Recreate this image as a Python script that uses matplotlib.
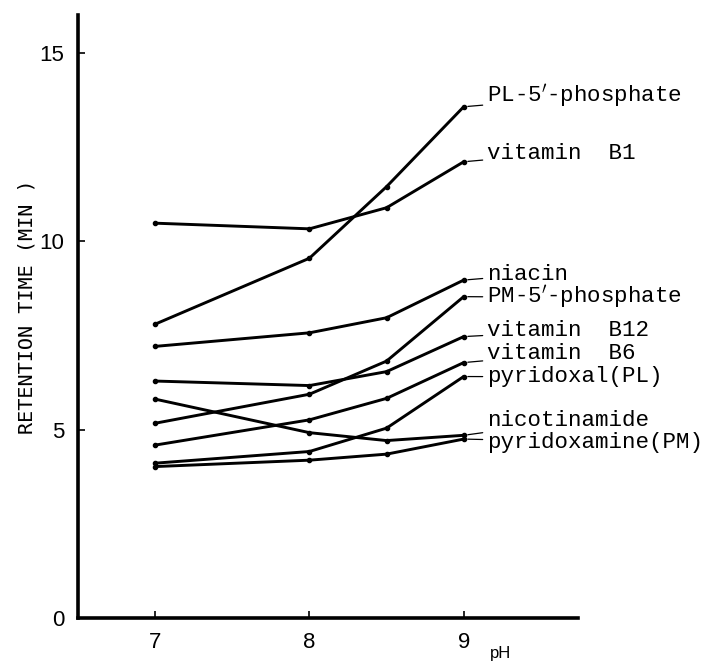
# Retention time vs pH for the B vitamins
import matplotlib
matplotlib.use('Agg')
import matplotlib.pyplot as plt

# Data
ph = [7, 8, 8.5, 9]
pl_5_phosphate = [7.80, 9.55, 11.45, 13.57]
vitamin_b1 = [10.48, 10.33, 10.89, 12.11]
niacin = [7.21, 7.57, 7.97, 8.97]
pm_5_phosphate = [5.17, 5.94, 6.82, 8.53]
vitamin_b12 = [6.29, 6.17, 6.54, 7.47]
vitamin_b6 = [4.59, 5.26, 5.83, 6.78]
pyridoxal = [4.11, 4.42, 5.04, 6.41]
nicotinamide = [5.81, 4.92, 4.71, 4.85]
pyridoxamine = [4.02, 4.19, 4.35, 4.75]

series = [pl_5_phosphate, vitamin_b1, niacin, pm_5_phosphate, vitamin_b12,
          vitamin_b6, pyridoxal, nicotinamide, pyridoxamine]
names = [r"PL-5$'$-phosphate", 'vitamin  B1', 'niacin', r"PM-5$'$-phosphate",
         'vitamin  B12', 'vitamin  B6', 'pyridoxal(PL)', 'nicotinamide',
         'pyridoxamine(PM)']
# where the right-hand labels sit (y, data units)
label_y = [13.84, 12.34, 9.11, 8.51, 7.62, 7.01, 6.40, 5.23, 4.67]

x_ticks = [7, 8, 9]
y_ticks = [0, 5, 10, 15]

mono = ['Liberation Mono', 'DejaVu Sans Mono']
sans = ['Liberation Sans', 'DejaVu Sans']

fig = plt.figure(figsize=(7.03, 6.61), dpi=100)
ax = fig.add_axes([0.111, 0.065, 0.711, 0.912])

for vals, name, ly in zip(series, names, label_y):
    ax.plot(ph, vals, color='black', lw=2.1, marker='o', markersize=3,
            solid_capstyle='round')
    ax.annotate(name, xy=(ph[-1], vals[-1]), xytext=(9.15, ly),
                ha='left', va='center', fontsize=16.2, family=mono,
                annotation_clip=False,
                arrowprops=dict(arrowstyle='-', lw=0.9, color='black',
                                shrinkA=1, shrinkB=3))

ax.set_xlim(6.5, 9.74)
ax.set_ylim(0, 16)
ax.set_xticks(x_ticks)
ax.set_yticks(y_ticks)
ax.tick_params(direction='in', length=5, width=1.2, pad=10, labelsize=16)
for lab in ax.get_xticklabels() + ax.get_yticklabels():
    lab.set_family(sans)

for s in ['top', 'right']:
    ax.spines[s].set_visible(False)
for s in ['left', 'bottom']:
    ax.spines[s].set_linewidth(2.6)

ax.text(9.24, -0.75, 'pH', ha='center', va='top', fontsize=12,
        family=sans, transform=ax.transData, clip_on=False)
fig.text(27 / 703, 1 - 307 / 661, 'RETENTION TIME (MIN )', rotation=90,
         ha='center', va='center', fontsize=14.5, family=['DejaVu Sans Mono'])

fig.savefig('out.png', dpi=100)
